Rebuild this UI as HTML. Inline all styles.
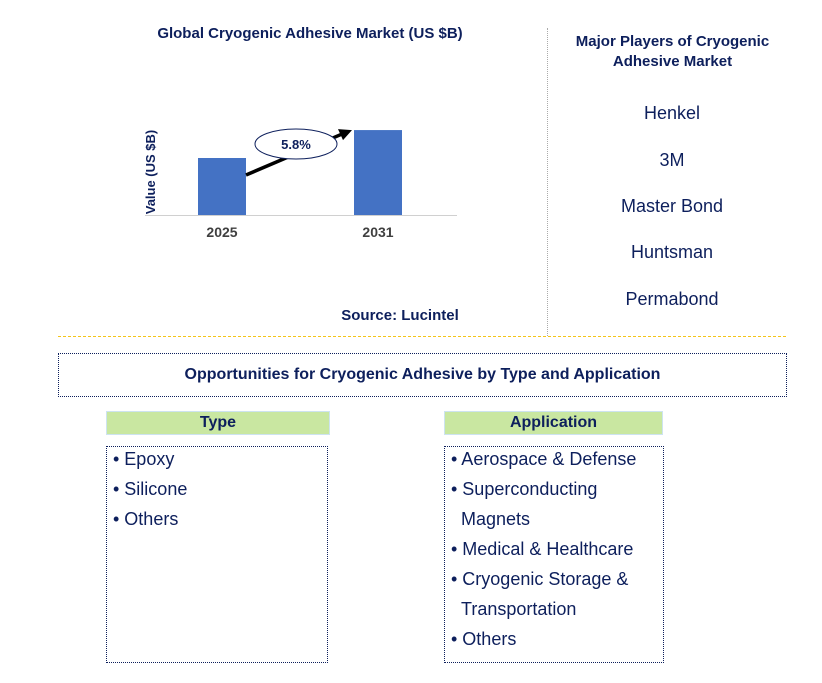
<!DOCTYPE html>
<html><head><meta charset="utf-8"><style>
body{margin:0;width:822px;height:683px;background:#fff;position:relative;font-family:"Liberation Sans",sans-serif;overflow:hidden}
.a{position:absolute}
.t{color:#0d1f5c;font-weight:bold;font-size:15px;text-align:center}
.pl{color:#0d1f5c;font-size:18px;text-align:center;width:250px;left:547px}
.li{font-size:18px;color:#0d1f5c;line-height:30px}
</style></head><body>
<div class="a t" style="left:120px;top:25px;width:380px">Global Cryogenic Adhesive Market (US $B)</div>
<svg class="a" style="left:0;top:0" width="540" height="330" id="chart"></svg>
<div class="a t" style="left:320px;top:307px;width:160px">Source: Lucintel</div>
<div class="a" style="left:547px;top:28px;height:308px;border-left:1px dotted #aaa"></div>
<div class="a t" style="left:555px;top:32px;width:235px;line-height:20px">Major Players of Cryogenic Adhesive Market</div>
<div class="a pl" style="top:103px">Henkel</div>
<div class="a pl" style="top:150px">3M</div>
<div class="a pl" style="top:196px">Master Bond</div>
<div class="a pl" style="top:242px">Huntsman</div>
<div class="a pl" style="top:289px">Permabond</div>
<div class="a" style="left:58px;top:336px;width:728px;border-top:1px dashed #f5c518"></div>
<div class="a t" style="left:58px;top:353px;width:727px;height:42px;border:1px dotted #0d1f5c;line-height:42px;font-size:16px">Opportunities for Cryogenic Adhesive by Type and Application</div>
<div class="a t" style="left:106px;top:411px;width:222px;height:22px;line-height:22px;background:#c9e7a1;border:1px solid #cde3f0;font-size:16px">Type</div>
<div class="a li" style="left:106px;top:446px;width:214px;height:215px;border:1px dotted #0d1f5c;padding-left:6px"><div style="margin-top:-3px">• Epoxy<br>• Silicone<br>• Others</div></div>
<div class="a t" style="left:444px;top:411px;width:217px;height:22px;line-height:22px;background:#c9e7a1;border:1px solid #cde3f0;font-size:16px">Application</div>
<div class="a li" style="left:444px;top:446px;width:212px;height:215px;border:1px dotted #0d1f5c;padding-left:6px"><div style="margin-top:-3px">• Aerospace &amp; Defense<br>• Superconducting<br>&nbsp;&nbsp;Magnets<br>• Medical &amp; Healthcare<br>• Cryogenic Storage &amp;<br>&nbsp;&nbsp;Transportation<br>• Others</div></div>
<script>
const categories=["2025","2031"];
const values=[1.0,1.49];
const cagrLabel="5.8%";
const svg=document.getElementById('chart');const NS='http://www.w3.org/2000/svg';
const base=215,pxPer=57,xs=[198,354],bw=48;
const y=v=>base-v*pxPer;
function mk(t,a){const e=document.createElementNS(NS,t);for(const k in a)e.setAttribute(k,a[k]);svg.appendChild(e);return e;}
let ax=mk('line',{x1:145,x2:457,y1:base+0.5,y2:base+0.5,stroke:'#d0d0d0'});

categories.forEach((c,i)=>{
 const r=mk('rect',{x:xs[i],y:y(values[i]),width:bw,height:values[i]*pxPer,fill:'#4472c4'});
 
 const t=mk('text',{x:xs[i]+bw/2,y:237,'text-anchor':'middle','font-size':'14','font-weight':'bold',fill:'#404040','font-family':'Liberation Sans'});
 t.textContent=c;
});
const yt=mk('text',{x:0,y:0,transform:'translate(155,172) rotate(-90)','text-anchor':'middle','font-size':'13','font-weight':'bold',fill:'#0d1f5c','font-family':'Liberation Sans'});
yt.textContent='Value (US $B)';
const x1=xs[0]+bw,y1=y(values[0])+20,x2=xs[1]-2,y2=y(values[1]);
const ar=mk('line',{x1:x1,y1:y1-3,x2:x2-10,y2:y2+4,stroke:'#000','stroke-width':3.5});

const hd=mk('polygon',{points:`${x2},${y2} ${x2-14},${y2-1} ${x2-9},${y2+10}`,fill:'#000'});

const el=mk('ellipse',{cx:296,cy:144,rx:41,ry:15,fill:'#fff',stroke:'#0d1f5c'});

const ct=mk('text',{x:296,y:149,'text-anchor':'middle','font-size':'13',fill:'#0d1f5c','font-weight':'bold','font-family':'Liberation Sans'});
ct.textContent=cagrLabel;
</script>
</body></html>
